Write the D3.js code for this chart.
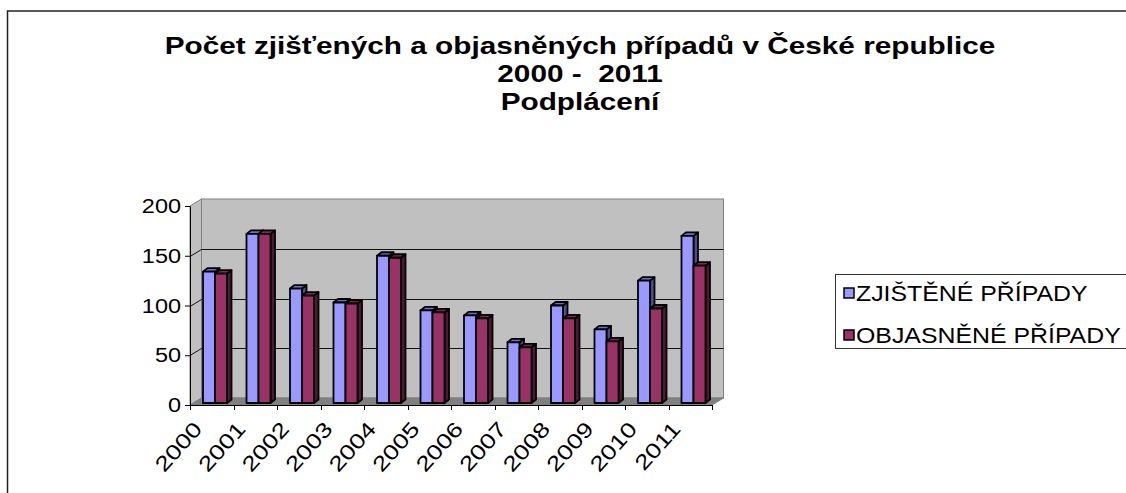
<!DOCTYPE html>
<html>
<head>
<meta charset="utf-8">
<script src="https://cdnjs.cloudflare.com/ajax/libs/d3/7.8.5/d3.min.js"></script>
<style>
  body { margin: 0; background: #fff; }
  svg { display: block; font-family: "Liberation Sans", Arial, sans-serif; }
</style>
</head>
<body>
<div id="chart"></div>
<script>
  /* -----------------------
      DATA
   -------------------------- */
  var years = ['2000', '2001', '2002', '2003', '2004', '2005', '2006', '2007', '2008', '2009', '2010', '2011'];
  var zjistene = [132, 170, 115, 101, 148, 93, 88, 61, 98, 74, 123, 168];
  var objasnene = [130, 170, 108, 100, 146, 91, 85, 56, 85, 62, 95, 138];
  var seriesNames = ['ZJIŠTĚNÉ PŘÍPADY', 'OBJASNĚNÉ PŘÍPADY'];
  var yTicks = [0, 50, 100, 150, 200];
  var gridValues = [50, 100, 150];
  var titleLines = ['Počet zjišťených a objasněných případů v České republice', '2000 -  2011', 'Podplácení'];

  /* -----------------------
      SETTINGS
   -------------------------- */
  var width = 1126, height = 493;
  var plot = { left: 190, right: 712, top: 206, bottom: 405 };
  var depth = { x: 11.5, y: -7 };       // floor / wall depth
  var barDepth = { x: 4.5, y: -3.5 };   // depth of one column
  var colors = {
    front: ['#9999ff', '#993366'],
    top: ['#6f6fc4', '#7a2952'],
    side: ['#4d4d88', '#4d1a33'],
    wall: '#c0c0c0',
    floor: '#808080',
    edge: '#808080'
  };

  var svg = d3.select('#chart').append('svg')
    .attr('width', width)
    .attr('height', height);

  //-- OUTER BORDER
  svg.append('rect')
    .attr('x', 7.5).attr('y', 11)
    .attr('width', 1300).attr('height', 600)
    .attr('fill', 'none')
    .attr('stroke', '#222')
    .attr('stroke-width', 1.5);

  /* -----------------------
      TITLE
   -------------------------- */
  var titleY = [54, 82, 110];
  svg.append('g').selectAll('text')
    .data(titleLines)
    .join('text')
    .attr('transform', function(d, i) { return 'translate(580,' + titleY[i] + ') scale(1.24,1)'; })
    .attr('text-anchor', 'middle')
    .attr('font-size', 24)
    .attr('font-weight', 'bold')
    .style('white-space', 'pre')
    .text(function(d) { return d; });

  /* -----------------------
      SCALES
   -------------------------- */
  var x = d3.scaleBand().domain(years).range([plot.left, plot.right]);
  var x1 = d3.scaleBand().domain([0, 1]).range([13, 37]);
  var y = d3.scaleLinear().domain([0, 200]).range([plot.bottom, plot.top]);
  //--- columns stand a bit deeper than the front edge of the floor
  var yBar = d3.scaleLinear().domain([0, 200]).range([plot.bottom - 2, plot.top - 2]);

  /* -----------------------
      WALLS AND FLOOR
   -------------------------- */
  var L = plot.left, R = plot.right, T = plot.top, B = plot.bottom;
  function pts(a) { return a.map(function(p) { return p.join(','); }).join(' '); }

  svg.append('polygon')
    .attr('points', pts([[L, T], [L + depth.x, T + depth.y], [L + depth.x, B + depth.y], [L, B]]))
    .attr('fill', colors.wall).attr('stroke', colors.edge);

  svg.append('rect')
    .attr('x', L + depth.x).attr('y', T + depth.y)
    .attr('width', R - L).attr('height', B - T)
    .attr('fill', colors.wall).attr('stroke', colors.edge);

  svg.append('polygon')
    .attr('points', pts([[L, B], [R, B], [R + depth.x, B + depth.y], [L + depth.x, B + depth.y]]))
    .attr('fill', colors.floor).attr('stroke', colors.edge);

  //--- GRID LINES (side wall + back wall)
  var grid = svg.append('g').attr('stroke', '#111').attr('stroke-width', 1).attr('fill', 'none');
  grid.selectAll('path')
    .data(gridValues)
    .join('path')
    .attr('d', function(d) {
      var gy = Math.round(y(d)) + 0.5;
      return 'M' + L + ',' + gy + 'L' + (L + depth.x) + ',' + (gy + depth.y) + 'H' + (R + depth.x);
    });

  /* -----------------------
      COLUMNS
   -------------------------- */
  var rows = years.map(function(yr, i) { return { year: yr, values: [zjistene[i], objasnene[i]] }; });

  var cat = svg.append('g').selectAll('g')
    .data(rows)
    .join('g');

  cat.each(function(d) {
    var g = d3.select(this);
    d.values.forEach(function(v, s) {
      var x0 = x(d.year) + x1(s);
      var w = x1.bandwidth();
      var yt = yBar(v), yb = yBar(0);
      var bar = g.append('g')
        .attr('stroke', '#000')
        .attr('stroke-width', 1.8)
        .attr('stroke-linejoin', 'round');
      //-- side face
      bar.append('polygon')
        .attr('points', pts([[x0 + w, yt], [x0 + w + barDepth.x, yt + barDepth.y], [x0 + w + barDepth.x, yb + barDepth.y], [x0 + w, yb]]))
        .attr('fill', colors.side[s]);
      //-- top face
      bar.append('polygon')
        .attr('points', pts([[x0, yt], [x0 + barDepth.x, yt + barDepth.y], [x0 + w + barDepth.x, yt + barDepth.y], [x0 + w, yt]]))
        .attr('fill', colors.top[s]);
      //-- front face
      bar.append('rect')
        .attr('x', x0).attr('y', yt)
        .attr('width', w).attr('height', yb - yt)
        .attr('fill', colors.front[s]);
    });
  });

  /* -----------------------
      AXES
   -------------------------- */
  var axisY = svg.append('g')
    .attr('transform', 'translate(' + L + ',0)')
    .call(d3.axisLeft(y).tickValues(yTicks).tickSize(5).tickSizeOuter(0).tickPadding(3));
  axisY.attr('font-family', null).attr('font-size', 21);
  axisY.selectAll('text')
    .attr('fill', '#000')
    .attr('transform', 'scale(1.12,1)');
  axisY.selectAll('line, path').attr('stroke', '#000');

  var axisX = svg.append('g')
    .attr('transform', 'translate(0,' + B + ')')
    .call(d3.axisBottom(x).tickSize(0).tickSizeOuter(0).tickPadding(0));
  axisX.attr('font-family', null).attr('font-size', 21);
  axisX.selectAll('path').attr('stroke', '#000');
  axisX.selectAll('text')
    .attr('fill', '#000')
    .attr('text-anchor', 'end')
    .attr('x', 0).attr('y', 0).attr('dy', '0.35em')
    .attr('transform', 'translate(-14,20) rotate(-48) scale(1.25,1)');

  //--- tick marks between categories
  var boundaries = years.map(function(d) { return x(d); }).concat([R]);
  axisX.append('g').selectAll('line')
    .data(boundaries)
    .join('line')
    .attr('x1', function(d) { return Math.round(d) + 0.5; })
    .attr('x2', function(d) { return Math.round(d) + 0.5; })
    .attr('y1', 0).attr('y2', 5)
    .attr('stroke', '#000');

  /* -----------------------
      LEGEND
   -------------------------- */
  var legend = svg.append('g').attr('transform', 'translate(835,274)');
  legend.append('rect')
    .attr('x', 0.5).attr('y', 0.5)
    .attr('width', 400).attr('height', 74)
    .attr('fill', '#fff')
    .attr('stroke', '#333');

  var item = legend.selectAll('g.item')
    .data(seriesNames)
    .join('g')
    .attr('class', 'item')
    .attr('transform', function(d, i) { return 'translate(9,' + (19 + i * 42) + ')'; });

  item.append('rect')
    .attr('x', 0).attr('y', -5)
    .attr('width', 10).attr('height', 10)
    .attr('fill', function(d, i) { return colors.front[i]; })
    .attr('stroke', '#000')
    .attr('stroke-width', 1.5);

  item.append('text')
    .attr('transform', 'translate(12,0) scale(1.13,1)')
    .attr('dy', '0.35em')
    .attr('font-size', 22)
    .text(function(d) { return d; });
</script>
</body>
</html>
